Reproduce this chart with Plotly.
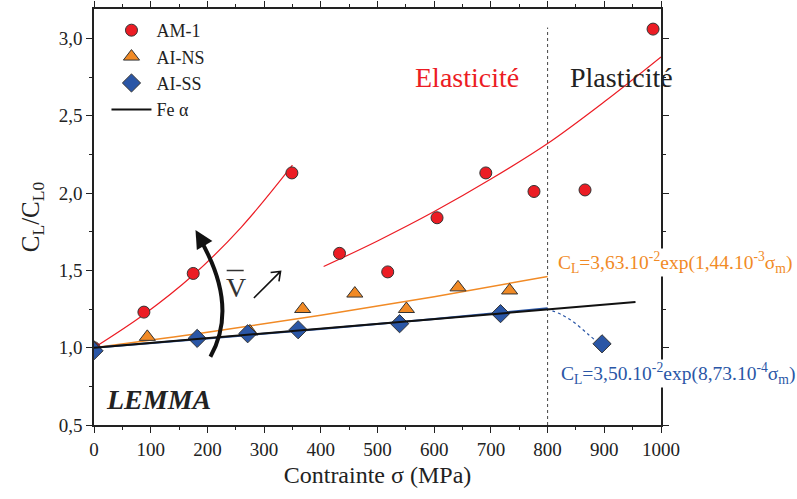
import plotly.graph_objects as go

# ---- data ----
am1_x = [0, 88, 175, 349, 433, 518, 605, 691, 776, 866, 986]
am1_y = [1.00, 1.23, 1.48, 2.13, 1.61, 1.49, 1.84, 2.13, 2.01, 2.02, 3.06]

ains_x = [0, 94, 275, 368, 460, 551, 642, 733]
ains_y = [1.00, 1.07, 1.105, 1.25, 1.35, 1.25, 1.39, 1.37]

aiss_x = [0, 182, 271, 360, 539, 717, 896]
aiss_y = [0.98, 1.06, 1.09, 1.116, 1.155, 1.22, 1.025]

fe_x = [0, 955]
fe_y = [1.0, 1.295]

# fitted curves
fit_am1a_x = [0, 88, 175, 260, 350]
fit_am1a_y = [1.0, 1.215, 1.47, 1.78, 2.18]
fit_am1b_x = [405, 500, 600, 700, 800, 900, 1000]
fit_am1b_y = [1.525, 1.69, 1.88, 2.09, 2.32, 2.59, 2.88]
fit_ns_x = [0, 200, 400, 600, 800]
fit_ns_y = [1.0, 1.10, 1.21, 1.33, 1.46]
fit_ss_x = [0, 200, 400, 600, 800]
fit_ss_y = [1.0, 1.06, 1.12, 1.185, 1.255]
ss_ext_x = [798, 825, 848, 872, 890]
ss_ext_y = [1.252, 1.213, 1.16, 1.085, 1.03]

limit_x = [800, 800]
limit_y = [0.5, 3.07]

RED = "#EC1C24"
ORANGE = "#F18A25"
BLUE = "#2A56A6"
INK = "#222222"
SERIF = "Liberation Serif, Times New Roman, serif"

fig = go.Figure()

line_style = dict(mode="lines", showlegend=False, hoverinfo="skip")
fig.add_trace(go.Scatter(x=limit_x, y=limit_y, line=dict(color="#444", width=1, dash="dot"), **line_style))
fig.add_trace(go.Scatter(x=fit_am1a_x, y=fit_am1a_y, line=dict(color=RED, width=1.2, shape="spline"), **line_style))
fig.add_trace(go.Scatter(x=fit_am1b_x, y=fit_am1b_y, line=dict(color=RED, width=1.2, shape="spline"), **line_style))
fig.add_trace(go.Scatter(x=fit_ns_x, y=fit_ns_y, line=dict(color=ORANGE, width=1.5, shape="spline"), **line_style))
fig.add_trace(go.Scatter(x=fit_ss_x, y=fit_ss_y, line=dict(color=BLUE, width=2, shape="spline"), **line_style))
fig.add_trace(go.Scatter(x=ss_ext_x, y=ss_ext_y, line=dict(color=BLUE, width=1.2, dash="dot", shape="spline"), **line_style))

mk_line = dict(color="#333", width=1)
fig.add_trace(go.Scatter(x=am1_x, y=am1_y, mode="markers", name="AM-1",
                         marker=dict(symbol="circle", size=12, color=RED, line=mk_line)))
fig.add_trace(go.Scatter(x=ains_x, y=ains_y, mode="markers", name="AI-NS",
                         marker=dict(symbol="triangle-up", size=14, color=ORANGE, line=mk_line)))
fig.add_trace(go.Scatter(x=aiss_x, y=aiss_y, mode="markers", name="AI-SS",
                         marker=dict(symbol="diamond", size=14, color=BLUE, line=mk_line)))
fig.add_trace(go.Scatter(x=fe_x, y=fe_y, mode="lines", name="Fe α",
                         line=dict(color="#111", width=2)))

ann = []
ann.append(dict(x=658, y=2.75, text="Elasticité", showarrow=False,
                font=dict(family=SERIF, size=28, color=RED)))
ann.append(dict(x=931, y=2.75, text="Plasticité", showarrow=False,
                font=dict(family=SERIF, size=28, color=INK)))
ann.append(dict(x=816, y=1.55, xanchor="left", showarrow=False, bgcolor="white", borderpad=0,
                text="C<sub>L</sub>=3,63.10<sup>-2</sup>exp(1,44.10<sup>-3</sup>σ<sub>m</sub>)",
                font=dict(family=SERIF, size=19.5, color=ORANGE)))
ann.append(dict(x=821, y=0.83, xanchor="left", showarrow=False, bgcolor="white", borderpad=0,
                text="C<sub>L</sub>=3,50.10<sup>-2</sup>exp(8,73.10<sup>-4</sup>σ<sub>m</sub>)",
                font=dict(family=SERIF, size=19.5, color=BLUE)))
ann.append(dict(x=113, y=0.665, text="<b><i>LEMMA</i></b>", showarrow=False,
                font=dict(family=SERIF, size=28, color=INK)))
ann.append(dict(x=250, y=1.39, text="V", showarrow=False,
                font=dict(family=SERIF, size=28, color="#333")))
# curved arrow head
ann.append(dict(x=179, y=1.761, ax=10, ay=17, text="", showarrow=True,
                arrowhead=2, arrowsize=0.9, arrowwidth=4, arrowcolor="#111",
                xref="x", yref="y", axref="pixel", ayref="pixel"))

shapes = []
# bar over V
shapes.append(dict(type="line", xref="x", yref="y", x0=234, x1=264, y0=1.499, y1=1.499,
                   line=dict(color="#333", width=1.5)))
# small arrow next to V
shapes.append(dict(type="path", xref="x", yref="y",
                   path="M 282,1.321 L 329,1.493 M 311.5,1.486 L 329,1.493 L 326.2,1.428",
                   line=dict(color="#111", width=1.6)))
# curved thick arrow shaft
shapes.append(dict(type="path", xref="x", yref="y",
                   path="M 205.3,0.942 Q 256.6,1.275 184,1.72",
                   line=dict(color="#111", width=4)))

fig.update_layout(
    width=797, height=499,
    margin=dict(l=94, r=136, t=9, b=74, autoexpand=False),
    paper_bgcolor="white", plot_bgcolor="white",
    font=dict(family=SERIF, size=19, color=INK),
    annotations=ann, shapes=shapes,
    legend=dict(x=0.022, y=0.976, xanchor="left", yanchor="top", yref="container",
                bgcolor="rgba(0,0,0,0)", font=dict(family=SERIF, size=18, color=INK),
                tracegroupgap=0, itemwidth=40),
    showlegend=True,
    separators=", ",
)

axis_common = dict(showgrid=False, zeroline=False, showline=True, linecolor=INK, linewidth=1.5,
                   mirror="ticks", ticks="outside", ticklen=6, tickwidth=1.3, tickcolor=INK,
                   tickfont=dict(family=SERIF, size=19, color=INK), automargin=False)
fig.update_xaxes(range=[0, 1000], dtick=100, tick0=0,
                 minor=dict(dtick=50, ticks="outside", ticklen=3, tickcolor=INK),
                 title=dict(text="Contrainte σ (MPa)", font=dict(family=SERIF, size=24, color=INK), standoff=8),
                 **axis_common)
fig.update_yaxes(range=[0.5, 3.19], dtick=0.5, tick0=0.5, tickformat=".1f",
                 minor=dict(dtick=0.25, ticks="outside", ticklen=3, tickcolor=INK),
                 title=dict(text="C<sub>L</sub>/C<sub>L0</sub>", font=dict(family=SERIF, size=25, color=INK), standoff=12),
                 **axis_common)

# pin the figure to the top-left corner of the page (no default body margin)
pin_js = ("document.body.style.margin='0';"
          "var gd=document.getElementById('{plot_id}');"
          "gd.style.position='fixed';gd.style.left='0px';gd.style.top='0px';")

fig.write_html("out.html", post_script=pin_js, config={"displayModeBar": False})
